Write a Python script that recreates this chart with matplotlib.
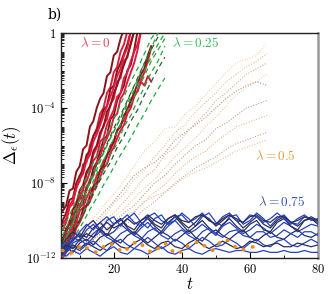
import numpy as np
import matplotlib
matplotlib.use("Agg")
import matplotlib.pyplot as plt
from matplotlib.ticker import FixedLocator, FixedFormatter

plt.rcParams['mathtext.fontset'] = 'cm'
plt.rcParams['font.family'] = ['DejaVu Serif']

# ---------------- data (log10 of Delta) ----------------
# lambda = 0 : t = 5, 6, 7, ...
lam0_t = np.arange(5, 32, 1)
lam0_logD = [
    [-9.5,-9.2,-8.4,-8.3,-7.4,-7.1,-6.2,-6.0,-5.0,-4.7,-4.0,-3.5,-3.2,-2.3,-2.1,-1.2,-1.0,-0.3,0.2],
    [-10.5,-10.1,-9.3,-9.1,-8.2,-7.9,-7.0,-6.9,-6.0,-5.5,-5.1,-4.3,-4.0,-3.2,-2.9,-2.1,-1.8,-1.0,-0.6,0.1],
    [-11.5,-10.8,-10.6,-9.7,-9.5,-8.6,-8.4,-7.5,-7.3,-6.5,-6.1,-5.5,-4.9,-4.6,-3.8,-3.5,-2.6,-2.4,-1.5,-1.3,-0.5,0.1],
    [-11.8,-11.5,-10.7,-10.5,-9.8,-9.3,-9.1,-8.2,-8.0,-7.2,-6.9,-6.3,-5.7,-5.5,-4.6,-4.4,-3.6,-3.2,-2.8,-2.0,-1.7,-0.9,0.1],
    [-11.0,-10.7,-10.0,-9.9,-9.1,-8.9,-8.2,-7.9,-7.4,-6.8,-6.6,-5.8,-5.6,-4.9,-4.5,-4.1,-3.4,-3.2,-2.4,-2.1,-1.5,-1.0,-0.6,0.1],
    [-11.5,-11.1,-10.9,-10.3,-10.1,-9.5,-9.3,-8.8,-8.4,-8.2,-7.6,-7.4,-6.8,-6.6,-6.0,-5.8,-5.2,-4.9,-4.6,-4.0,-3.9,-3.2,-3.1,-2.6,-2.8,-2.3,-2.6],
    [-11.0,-10.4,-10.2,-9.4,-9.1,-8.4,-8.1,-7.4,-7.1,-6.3,-6.0,-5.3,-5.0,-4.2,-3.9,-3.2,-2.8,-2.2,-1.7,-1.2,-0.6,0.1],
    [-12.0,-11.7,-11.2,-11.0,-10.4,-10.1,-9.7,-9.2,-9.0,-8.4,-8.1,-7.7,-7.2,-7.0,-6.4,-6.1,-5.6,-5.2,-4.9,-4.3,-4.0,-3.4,-3.1,-2.5,-2.1,-1.5,-0.8],
    [-10.0,-9.6,-8.9,-8.8,-8.0,-7.6,-7.3,-6.5,-6.3,-5.5,-5.2,-4.7,-4.1,-3.9,-3.0,-2.8,-2.0,-1.6,-1.1,-0.6,0.1],
    [-11.4,-10.9,-10.6,-10.0,-9.7,-9.2,-8.8,-8.4,-7.8,-7.6,-6.9,-6.6,-6.0,-5.6,-5.2,-4.5,-4.3,-3.5,-3.2,-2.6,-2.1,-1.6,-0.9,0.1],
    [-10.2,-9.9,-9.2,-8.9,-8.3,-7.8,-7.5,-6.8,-6.5,-5.8,-5.4,-4.9,-4.4,-3.9,-3.4,-2.9,-2.3,-1.9,-1.2,-0.8,0.1],
    [-11.7,-11.4,-11.0,-10.7,-10.2,-10.0,-9.4,-9.2,-8.7,-8.2,-8.0,-7.3,-7.1,-6.5,-6.2,-5.8,-5.2,-5.0,-4.4,-4.1,-3.6,-3.2,-2.7,-2.2,-1.9,-1.2,-0.7],
]
lam0_dark = [True, False, False, True, False, False, True, False, True, False, False, True]

# lambda = 0.25 : t = 5, 7, 9, ...
lam25_t = np.arange(5, 37, 2)
lam25_logD = [
    [-11.2,-10.6,-9.6,-8.9,-8.0,-7.3,-6.4,-5.6,-4.9,-4.1,-3.2,-2.5,-1.6,-0.8,0.0],
    [-11.6,-11.0,-10.2,-9.6,-8.7,-8.0,-7.3,-6.5,-5.9,-5.0,-4.4,-3.6,-2.9,-2.1,-1.5,-0.7],
    [-10.8,-10.0,-9.3,-8.5,-7.8,-7.1,-6.4,-5.6,-4.9,-4.2,-3.4,-2.7,-2.0,-1.3,-0.6,0.0],
    [-11.9,-11.4,-10.7,-10.1,-9.4,-8.8,-8.1,-7.5,-6.8,-6.2,-5.6,-4.9,-4.3,-3.6,-3.0,-2.4],
    [-11.0,-10.3,-9.4,-8.6,-7.9,-7.0,-6.3,-5.5,-4.7,-4.0,-3.2,-2.4,-1.6,-0.9,-0.2],
    [-11.4,-10.5,-9.8,-9.0,-8.3,-7.5,-6.8,-6.0,-5.3,-4.5,-3.8,-3.0,-2.3,-1.5,-0.9,-0.3],
    [-11.7,-11.1,-10.3,-9.7,-9.0,-8.2,-7.5,-6.9,-6.1,-5.5,-4.7,-4.1,-3.3,-2.6,-1.9,-1.3],
    [-10.5,-9.7,-8.9,-8.1,-7.3,-6.5,-5.8,-5.0,-4.2,-3.4,-2.6,-1.9,-1.1,-0.3,0.2],
]
lam25_dark = [False, False, False, False, True, False, True, False]

# lambda = 0.5 : t = 5, 8, 11, ...
lam5_t = np.arange(5, 66, 3)
lam5_logD = [
    [-11.3,-11.0,-10.5,-9.9,-9.2,-8.6,-7.9,-7.1,-6.3,-5.8,-5.1,-5.0,-4.3,-3.9,-3.3,-2.7,-2.1,-1.6,-1.4,-1.2,-0.5],
    [-11.6,-11.2,-10.8,-10.3,-9.8,-9.1,-8.6,-7.8,-7.3,-6.6,-6.0,-5.3,-4.9,-4.2,-3.7,-3.2,-2.6,-2.2,-1.8,-1.5,-1.1],
    [-11.8,-11.5,-11.1,-10.6,-10.1,-9.6,-9.0,-8.4,-7.7,-7.3,-6.5,-6.1,-5.4,-4.8,-4.3,-3.6,-3.2,-2.7,-2.2,-1.9,-1.6],
    [-11.5,-11.3,-11.0,-10.7,-10.3,-9.8,-9.4,-8.8,-8.3,-7.8,-7.2,-6.6,-6.1,-5.6,-5.0,-4.5,-3.9,-3.3,-2.9,-2.6,-2.2],
    [-11.9,-11.7,-11.4,-11.0,-10.6,-10.1,-9.6,-9.2,-8.6,-8.0,-7.6,-7.0,-6.5,-6.0,-5.7,-5.1,-4.8,-4.4,-4.0,-3.8,-3.6],
    [-11.7,-11.5,-11.3,-11.0,-10.7,-10.3,-9.9,-9.5,-9.0,-8.5,-8.1,-7.5,-7.0,-6.6,-6.3,-5.8,-5.4,-5.0,-4.8,-4.6,-4.4],
    [-12.0,-11.8,-11.6,-11.3,-11.0,-10.6,-10.3,-9.9,-9.4,-9.0,-8.5,-8.0,-7.6,-7.2,-6.9,-6.6,-6.2,-5.9,-5.7,-5.5,-5.3],
    [-11.8,-11.6,-11.5,-11.2,-10.9,-10.6,-10.2,-9.6,-9.0,-8.7,-8.5,-8.1,-7.7,-7.4,-7.2,-6.9,-6.6,-6.3,-6.1,-5.9,-5.7],
    [-11.4,-11.1,-10.7,-10.2,-9.6,-9.0,-8.3,-7.6,-7.2,-6.9,-6.4,-5.7,-5.3,-4.9,-4.5,-4.0,-3.5,-3.1,-2.8,-2.6,-2.8],
]
lam5_colors = ['#f9c58f', '#f4b078', '#d9a07a', '#f7bb84', '#b98a72', '#f2a868', '#c89478', '#e9b08c', '#a97f6c']

# lambda = 0.5, trajectory staying small (thick orange dots) : t = 5, 7, 9, ...
lam5_low_t = np.arange(5, 65, 2)
lam5_low_logD = [-11.6,-11.8,-11.5,-11.3,-11.6,-11.7,-11.4,-11.2,-11.5,-11.7,
                 -11.3,-11.1,-11.4,-11.7,-11.5,-11.2,-11.6,-11.8,-11.4,-11.3,
                 -11.1,-11.4,-11.6,-11.2,-11.0,-11.3,-11.6,-11.5,-11.4,-11.3]

# lambda = 0.75 : t = 4, 6, 8, ..., 80
lam75_t = np.arange(4, 81, 2)
lam75_logD = [
    [-11.6,-11.2,-10.9,-11.1,-10.5,-10.2,-10.6,-10.0,-9.8,-10.3,-9.9,-9.6,-10.1,-10.4,-9.9,-9.7,-10.2,-10.0,-9.6,-9.9,
     -10.3,-9.8,-9.6,-10.1,-10.3,-9.8,-9.7,-10.2,-10.0,-9.6,-9.9,-10.3,-9.9,-9.7,-10.1,-10.2,-9.8,-9.9,-10.1],
    [-11.9,-11.5,-11.0,-10.7,-10.9,-10.4,-10.1,-10.5,-10.2,-9.9,-10.3,-10.5,-10.0,-9.8,-10.2,-10.4,-9.9,-9.7,-10.1,-10.4,
     -10.1,-9.7,-9.9,-10.3,-10.0,-9.7,-10.0,-10.4,-10.1,-9.8,-10.2,-10.4,-10.0,-9.8,-10.1,-10.3,-10.0,-9.8,-10.0],
    [-11.3,-11.6,-11.0,-10.8,-11.1,-10.7,-10.4,-10.8,-10.6,-10.2,-10.5,-10.8,-10.4,-10.1,-10.5,-10.7,-10.3,-10.0,-10.4,-10.7,
     -10.5,-10.2,-10.5,-10.8,-10.3,-10.1,-10.4,-10.7,-10.5,-10.2,-10.4,-10.7,-10.4,-10.1,-10.3,-10.6,-10.4,-10.2,-10.3],
    [-11.8,-11.4,-11.7,-11.2,-11.0,-11.3,-10.9,-10.7,-11.0,-11.2,-10.8,-10.6,-10.9,-11.2,-10.9,-10.6,-10.8,-11.1,-10.8,-10.5,
     -10.9,-11.1,-10.7,-10.5,-10.8,-11.0,-10.7,-10.5,-10.9,-11.1,-10.8,-10.6,-10.9,-11.0,-10.7,-10.5,-10.8,-10.9,-10.7],
    [-12.0,-11.7,-11.4,-11.6,-11.3,-11.1,-11.4,-11.6,-11.2,-11.0,-11.3,-11.5,-11.2,-10.9,-11.2,-11.5,-11.3,-11.0,-11.2,-11.5,
     -11.2,-10.9,-11.1,-11.4,-11.3,-11.0,-11.2,-11.5,-11.2,-11.0,-11.3,-11.4,-11.1,-11.0,-11.3,-11.4,-11.2,-11.0,-11.2],
    [-11.7,-11.9,-11.6,-11.8,-11.5,-11.7,-11.9,-11.6,-11.4,-11.7,-11.8,-11.5,-11.6,-11.8,-11.6,-11.4,-11.7,-11.8,-11.6,-11.5,
     -11.7,-11.8,-11.6,-11.5,-11.6,-11.7,-11.6,-11.6,-11.7,-11.7,-11.6,-11.7,-11.7,-11.6,-11.7,-11.7,-11.6,-11.7,-11.7],
    [-11.5,-11.0,-10.6,-10.9,-10.3,-10.0,-10.5,-10.8,-10.2,-9.9,-10.4,-10.7,-10.2,-9.9,-10.3,-10.6,-10.1,-9.8,-10.2,-10.6,
     -10.3,-10.0,-10.4,-10.7,-10.2,-9.9,-10.3,-10.6,-10.2,-10.0,-10.5,-10.6,-10.1,-9.9,-10.3,-10.5,-10.0,-9.9,-10.2],
    [-11.2,-11.5,-11.1,-10.6,-10.2,-10.5,-10.1,-9.8,-10.2,-10.0,-9.7,-10.1,-10.3,-9.8,-9.6,-10.0,-10.2,-9.8,-9.7,-10.1,
     -9.9,-9.6,-10.0,-10.2,-9.8,-9.6,-10.0,-10.1,-9.7,-9.8,-10.1,-9.9,-9.6,-9.9,-10.2,-9.9,-9.7,-10.0,-9.9],
    [-11.9,-11.6,-11.3,-11.5,-11.2,-11.4,-11.6,-11.3,-11.1,-11.4,-11.5,-11.2,-11.0,-11.3,-11.5,-11.2,-11.1,-11.4,-11.5,-11.2,
     -11.0,-11.3,-11.5,-11.3,-11.1,-11.3,-11.5,-11.4,-11.1,-11.2,-11.4,-11.3,-11.2,-11.4,-11.4,-11.2,-11.3,-11.4,-11.3],
    [-11.4,-11.7,-11.2,-11.0,-11.3,-10.9,-10.6,-10.9,-11.1,-10.7,-10.5,-10.8,-11.0,-10.6,-10.4,-10.8,-11.0,-10.7,-10.5,-10.8,
     -11.0,-10.6,-10.4,-10.7,-10.9,-10.6,-10.5,-10.8,-10.9,-10.6,-10.6,-10.9,-10.8,-10.5,-10.7,-10.9,-10.6,-10.6,-10.8],
    [-11.7,-11.3,-11.5,-11.0,-10.7,-10.9,-10.4,-10.1,-10.4,-10.2,-9.9,-10.2,-10.0,-9.7,-10.0,-10.2,-9.9,-9.7,-10.0,-10.1,
     -9.8,-9.7,-10.0,-10.2,-9.9,-9.7,-9.9,-10.1,-9.8,-9.7,-10.0,-10.1,-9.8,-9.8,-10.1,-10.0,-9.8,-9.9,-10.0],
]
lam75_dark = [False, True, False, True, False, False, True, False, True, False, True]

labels = [r'$\lambda=0$', r'$\lambda=0.25$', r'$\lambda=0.5$', r'$\lambda=0.75$']
y_ticks = [1e-12, 1e-8, 1e-4, 1]
y_ticklabels = [r'$10^{-12}$', r'$10^{-8}$', r'$10^{-4}$', r'$1$']
x_ticks = [20, 40, 60, 80]

# ---------------- figure ----------------
fig = plt.figure(figsize=(3.32, 2.94), dpi=100)
ax = fig.add_axes([61/332, 1-258/294, (318-61)/332, (258-33)/294])

for vals, c in zip(lam5_logD, lam5_colors):
    v = np.array(vals)
    ax.plot(lam5_t[:len(v)], 10.0**v, ls=(0, (0.8, 1.6)), lw=0.8, color=c, zorder=1)

for vals, dk in zip(lam0_logD, lam0_dark):
    v = np.array(vals)
    ax.plot(lam0_t[:len(v)], 10.0**v, '-', lw=1.4, color='#8a1418' if dk else '#dc1c40', zorder=2)

for vals, dk in zip(lam25_logD, lam25_dark):
    v = np.array(vals)
    ax.plot(lam25_t[:len(v)], 10.0**v, ls=(0, (4, 3)), lw=0.9, color='#2e5b33' if dk else '#22a83a', zorder=3)

for vals, dk in zip(lam75_logD, lam75_dark):
    v = np.array(vals)
    ax.plot(lam75_t[:len(v)], 10.0**v, '-', lw=0.9, color='#2b2d5e' if dk else '#2444c2', zorder=4)

v = np.array(lam5_low_logD)
ax.plot(lam5_low_t[:len(v)], 10.0**v, ls=(0, (0.1, 2.6)), lw=2.6, color='#f08a10',
        dash_capstyle='round', zorder=5)

ax.set_yscale('log')
ax.set_xlim(4.5, 80)
ax.set_ylim(1e-12, 1)

ax.yaxis.set_major_locator(FixedLocator(y_ticks))
ax.yaxis.set_major_formatter(FixedFormatter(y_ticklabels))
minor = [m * 10.0**d for d in range(-12, 0) for m in range(1, 10) if not (m == 1 and d % 4 == 0)]
ax.yaxis.set_minor_locator(FixedLocator(minor))
ax.xaxis.set_major_locator(FixedLocator(x_ticks))
ax.xaxis.set_major_formatter(FixedFormatter([r'$%d$' % x for x in x_ticks]))
ax.xaxis.set_minor_locator(FixedLocator([10, 30, 50, 70]))

ax.tick_params(which='both', direction='in', labelsize=9)
ax.tick_params(which='major', length=4, width=0.8)
ax.tick_params(which='minor', length=2.5, width=0.6)
ax.tick_params(axis='y', which='minor', labelleft=False)

for s in ['left', 'bottom', 'top']:
    ax.spines[s].set_color('#222222')
    ax.spines[s].set_linewidth(1.0)
ax.spines['right'].set_color('#999999')
ax.spines['right'].set_linewidth(1.8)

ax.set_xlabel(r'$t$', fontsize=12, labelpad=0)
ax.set_ylabel(r'$\Delta_\epsilon(t)$', fontsize=12, labelpad=2)

ax.text(0.074, 0.955, labels[0], transform=ax.transAxes, color='#e0405a', fontsize=9.5, va='center')
ax.text(0.43, 0.955, labels[1], transform=ax.transAxes, color='#33bb55', fontsize=9.5, va='center')
ax.text(0.755, 0.455, labels[2], transform=ax.transAxes, color='#e0a040', fontsize=9.5, va='center')
ax.text(0.765, 0.25, labels[3], transform=ax.transAxes, color='#3a4fb0', fontsize=9.5, va='center')

fig.text(55/332, 1-15/294, 'b)', fontsize=10, ha='center', va='center')

fig.savefig('out.png', dpi=100)
